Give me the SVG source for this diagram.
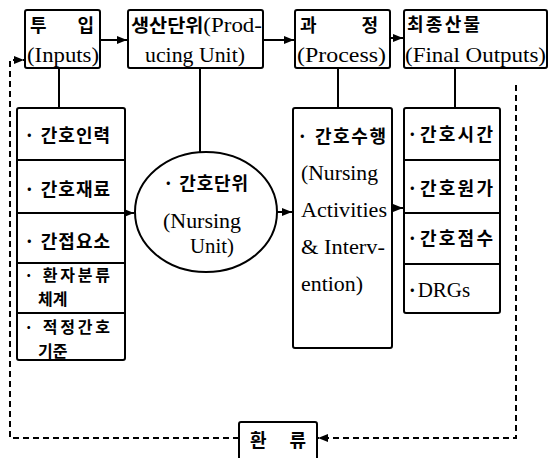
<svg xmlns="http://www.w3.org/2000/svg" width="549" height="458" viewBox="0 0 549 458">
<style>
.box{fill:#fff;stroke:#000;stroke-width:2}
.ln{stroke:#000;stroke-width:2;fill:none}
.dash{stroke:#000;stroke-width:2;fill:none;stroke-dasharray:6 4}
text{font-family:"Liberation Serif","Noto Sans CJK KR",serif;font-size:21px;fill:#000}
.k{font-family:"Noto Sans CJK KR","Liberation Serif",sans-serif;font-size:18px;font-weight:700}
.k2{font-family:"Noto Sans CJK KR","Liberation Serif",sans-serif;font-size:16px;font-weight:700}
</style>
<defs>
<marker id="ah" viewBox="0 0 10 10" refX="10" refY="5" markerWidth="5" markerHeight="5" orient="auto" markerUnits="strokeWidth">
<path d="M0,1 L10,5 L0,9 z" fill="#000"/>
</marker>
</defs>
<g id="connectors">
<line class="ln" x1="100" y1="40" x2="127" y2="40" marker-end="url(#ah)"/>
<line class="ln" x1="263" y1="40" x2="294" y2="40" marker-end="url(#ah)"/>
<line class="ln" x1="390" y1="38" x2="403" y2="38" marker-end="url(#ah)"/>
<line class="ln" x1="59" y1="68" x2="59" y2="108"/>
<line class="ln" x1="200" y1="68" x2="200" y2="152"/>
<line class="ln" x1="338" y1="68" x2="338" y2="108"/>
<line class="ln" x1="455" y1="68" x2="455" y2="108"/>
<line class="ln" x1="125" y1="213" x2="134" y2="213" marker-end="url(#ah)"/>
<line class="ln" x1="277" y1="212" x2="292" y2="212" marker-end="url(#ah)"/>
<line class="ln" x1="392" y1="208" x2="403" y2="208" marker-end="url(#ah)"/>
<polyline class="dash" points="516,85 516,438 318,438" marker-end="url(#ah)"/>
<polyline class="dash" points="239,438 10,438 10,60 24,60" marker-end="url(#ah)"/>
</g>
<g id="inputs">
<rect class="box" x="25" y="10" width="75" height="58" rx="2"/>
<text class="k" x="30" y="32" textLength="64" lengthAdjust="spacing">투 입</text>
<text x="27" y="62" textLength="72" lengthAdjust="spacingAndGlyphs">(Inputs)</text>
</g>
<g id="producing-unit">
<rect class="box" x="128" y="10" width="135" height="58" rx="2"/>
<text x="131" y="32" textLength="131" lengthAdjust="spacingAndGlyphs"><tspan class="k">생산단위</tspan>(Prod-</text>
<text x="145" y="62" textLength="100" lengthAdjust="spacingAndGlyphs">ucing Unit)</text>
</g>
<g id="process">
<rect class="box" x="295" y="10" width="95" height="58" rx="2"/>
<text class="k" x="300" y="32" textLength="78" lengthAdjust="spacing">과 정</text>
<text x="297" y="62" textLength="89" lengthAdjust="spacingAndGlyphs">(Process)</text>
</g>
<g id="final-outputs">
<rect class="box" x="404" y="10" width="143" height="58" rx="2"/>
<text class="k" x="407" y="31" textLength="73" lengthAdjust="spacing">최종산물</text>
<text x="405" y="62" textLength="141" lengthAdjust="spacingAndGlyphs">(Final Outputs)</text>
</g>
<g id="input-list">
<rect class="box" x="17" y="108" width="108" height="252" rx="2"/>
<line class="ln" x1="17" y1="160" x2="125" y2="160"/>
<line class="ln" x1="17" y1="213" x2="125" y2="213"/>
<line class="ln" x1="17" y1="263" x2="125" y2="263"/>
<line class="ln" x1="17" y1="313" x2="125" y2="313"/>
<text class="k" x="24" y="142" textLength="86" lengthAdjust="spacing">· 간호인력</text>
<text class="k" x="24" y="196" textLength="86" lengthAdjust="spacing">· 간호재료</text>
<text class="k" x="24" y="248" textLength="86" lengthAdjust="spacing">· 간접요소</text>
<text class="k2" x="24" y="281" textLength="86" lengthAdjust="spacing">· 환자분류</text>
<text class="k2" x="38" y="305">체계</text>
<text class="k2" x="24" y="333" textLength="86" lengthAdjust="spacing">· 적정간호</text>
<text class="k2" x="38" y="357">기준</text>
</g>
<g id="nursing-unit">
<ellipse class="box" cx="206" cy="212" rx="71" ry="60"/>
<text class="k" x="163" y="190" textLength="85" lengthAdjust="spacing">· 간호단위</text>
<text x="163" y="228" textLength="78" lengthAdjust="spacingAndGlyphs">(Nursing</text>
<text x="190" y="253" textLength="44" lengthAdjust="spacingAndGlyphs">Unit)</text>
</g>
<g id="process-list">
<rect class="box" x="293" y="108" width="99" height="240" rx="2"/>
<text class="k" x="297" y="143" textLength="89" lengthAdjust="spacing">· 간호수행</text>
<text x="301" y="180" textLength="77" lengthAdjust="spacingAndGlyphs">(Nursing</text>
<text x="301" y="217" textLength="86" lengthAdjust="spacingAndGlyphs">Activities</text>
<text x="301" y="254" textLength="84" lengthAdjust="spacingAndGlyphs">&amp; Interv-</text>
<text x="301" y="291" textLength="62" lengthAdjust="spacingAndGlyphs">ention)</text>
</g>
<g id="output-list">
<rect class="box" x="404" y="108" width="96" height="205" rx="2"/>
<line class="ln" x1="404" y1="160" x2="500" y2="160"/>
<line class="ln" x1="404" y1="213" x2="500" y2="213"/>
<line class="ln" x1="404" y1="264" x2="500" y2="264"/>
<text class="k" x="407" y="141" textLength="86" lengthAdjust="spacing">·간호시간</text>
<text class="k" x="407" y="195" textLength="86" lengthAdjust="spacing">·간호원가</text>
<text class="k" x="407" y="245" textLength="86" lengthAdjust="spacing">·간호점수</text>
<text x="407" y="297"><tspan class="k">·</tspan>DRGs</text>
</g>
<g id="feedback">
<rect class="box" x="239" y="422" width="78" height="44" rx="2"/>
<text class="k" x="250" y="447" textLength="56" lengthAdjust="spacing">환 류</text>
</g>
</svg>
